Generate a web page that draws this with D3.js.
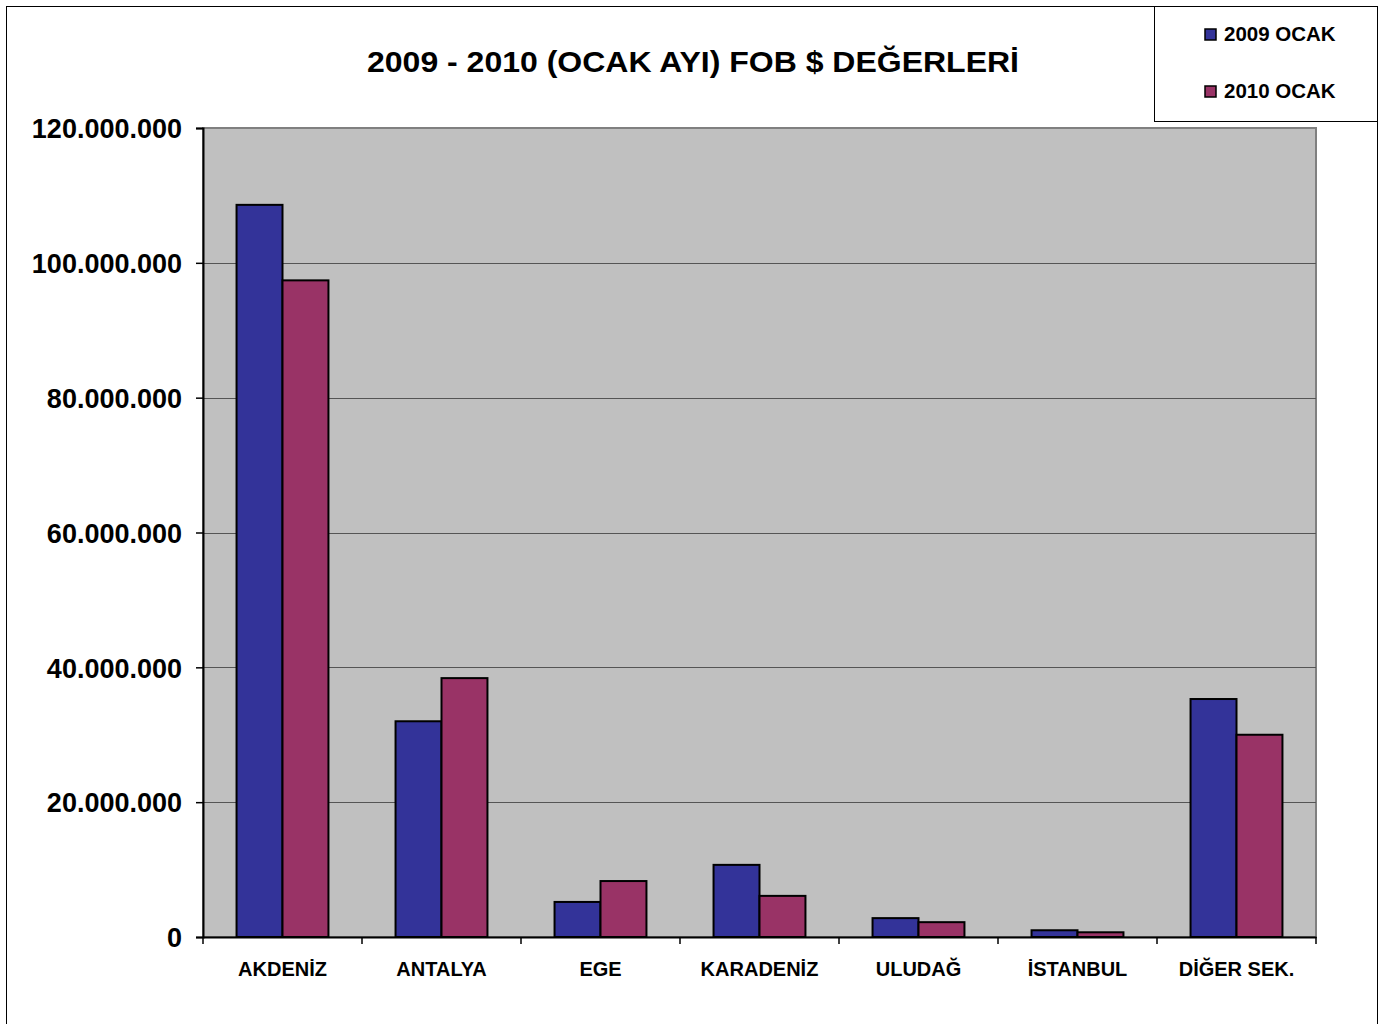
<!DOCTYPE html>
<html>
<head>
<meta charset="utf-8">
<script src="https://cdnjs.cloudflare.com/ajax/libs/d3/7.8.5/d3.min.js"></script>
<style>
  body { margin: 0; background: #fff; }
  svg text { font-family: "Liberation Sans", Arial, sans-serif; font-weight: bold; fill: #000; }
</style>
</head>
<body>
<div id="chart"></div>
<script>
// data
var categories = ["AKDENİZ", "ANTALYA", "EGE", "KARADENİZ", "ULUDAĞ", "İSTANBUL", "DİĞER SEK."];
var seriesNames = ["2009 OCAK", "2010 OCAK"];
var values2009 = [108600000, 32000000, 5200000, 10700000, 2800000, 1000000, 35300000];
var values2010 = [97400000, 38400000, 8300000, 6100000, 2200000, 700000, 30000000];
var yTicks = [0, 20000000, 40000000, 60000000, 80000000, 100000000, 120000000];

var colors = ["#333399", "#993366"];

var width = 1386, height = 1024;
var plot = {left: 203, right: 1316, top: 128, bottom: 937};

var svg = d3.select("#chart").append("svg")
    .attr("width", width)
    .attr("height", height);

// outer frame
svg.append("rect")
    .attr("x", 6.5).attr("y", 6.5)
    .attr("width", 1371).attr("height", 1030)
    .attr("fill", "#fff")
    .attr("stroke", "#000")
    .attr("stroke-width", 1);

var x = d3.scaleBand()
    .domain(categories)
    .range([plot.left, plot.right])
    .paddingInner(0)
    .paddingOuter(0);

var y = d3.scaleLinear()
    .domain([0, 120000000])
    .range([plot.bottom, plot.top]);

// plot background
svg.append("rect")
    .attr("x", plot.left).attr("y", plot.top)
    .attr("width", plot.right - plot.left)
    .attr("height", plot.bottom - plot.top)
    .attr("fill", "#c0c0c0")
    .attr("stroke", "#808080")
    .attr("stroke-width", 2);

// gridlines
svg.append("g")
    .selectAll("line")
    .data(yTicks.filter(function(d) { return d > 0 && d < 120000000; }))
    .enter().append("line")
    .attr("x1", plot.left).attr("x2", plot.right)
    .attr("y1", function(d) { return Math.round(y(d)) + 0.5; })
    .attr("y2", function(d) { return Math.round(y(d)) + 0.5; })
    .attr("stroke", "#555")
    .attr("stroke-width", 1);

// bars
var inner = d3.scaleBand()
    .domain([0, 1])
    .range([0, x.bandwidth()])
    .paddingOuter(0.73)
    .paddingInner(0);

var series = [values2009, values2010];

var groups = svg.append("g")
    .selectAll("g")
    .data(categories)
    .enter().append("g")
    .attr("transform", function(d) { return "translate(" + x(d) + ",0)"; });

groups.selectAll("rect")
    .data(function(d, i) { return series.map(function(s, k) { return {k: k, v: s[i]}; }); })
    .enter().append("rect")
    .attr("x", function(d) { return inner(d.k); })
    .attr("y", function(d) { return y(d.v); })
    .attr("width", inner.bandwidth())
    .attr("height", function(d) { return y(0) - y(d.v); })
    .attr("fill", function(d) { return colors[d.k]; })
    .attr("stroke", "#000")
    .attr("stroke-width", 2);

// y axis
var yAxis = svg.append("g")
    .attr("transform", "translate(" + plot.left + ",0)")
    .call(d3.axisLeft(y)
        .tickValues(yTicks)
        .tickSize(7)
        .tickPadding(14)
        .tickFormat(function(d) { return d3.format(",")(d).replace(/,/g, "."); }));
yAxis.select(".domain").attr("stroke", "#000").attr("stroke-width", 2);
yAxis.selectAll(".tick line").attr("stroke", "#000").attr("stroke-width", 1.5);
yAxis.selectAll("text")
    .style("font-size", "27px")
    .attr("dy", "0.36em");

// x axis
var xAxis = svg.append("g")
    .attr("transform", "translate(0," + plot.bottom + ")")
    .call(d3.axisBottom(x).tickSize(0).tickPadding(25));
xAxis.select(".domain").attr("stroke", "#000").attr("stroke-width", 2);
xAxis.selectAll("text")
    .style("font-size", "20px")
    .attr("dy", "0.71em");

// category boundary tick marks
svg.append("g")
    .selectAll("line")
    .data(categories.concat(["end"]))
    .enter().append("line")
    .attr("x1", function(d, i) { return i < categories.length ? x(d) : plot.right; })
    .attr("x2", function(d, i) { return i < categories.length ? x(d) : plot.right; })
    .attr("y1", plot.bottom)
    .attr("y2", plot.bottom + 7)
    .attr("stroke", "#000")
    .attr("stroke-width", 1.5);

// title
svg.append("text")
    .attr("x", 693)
    .attr("y", 72)
    .attr("text-anchor", "middle")
    .attr("textLength", 652)
    .attr("lengthAdjust", "spacingAndGlyphs")
    .style("font-size", "30px")
    .text("2009 - 2010 (OCAK AYI) FOB $ DEĞERLERİ");

// legend
var legend = svg.append("g");
legend.append("rect")
    .attr("x", 1154.5).attr("y", 6.5)
    .attr("width", 223).attr("height", 115)
    .attr("fill", "#fff")
    .attr("stroke", "#000")
    .attr("stroke-width", 1);

var items = legend.selectAll("g.item")
    .data(seriesNames)
    .enter().append("g")
    .attr("class", "item")
    .attr("transform", function(d, i) { return "translate(1205," + (29 + i * 57) + ")"; });

items.append("rect")
    .attr("width", 11).attr("height", 11)
    .attr("fill", function(d, i) { return colors[i]; })
    .attr("stroke", "#000")
    .attr("stroke-width", 1.5);

items.append("text")
    .attr("x", 19)
    .attr("y", 12)
    .style("font-size", "20.5px")
    .text(function(d) { return d; });
</script>
</body>
</html>
